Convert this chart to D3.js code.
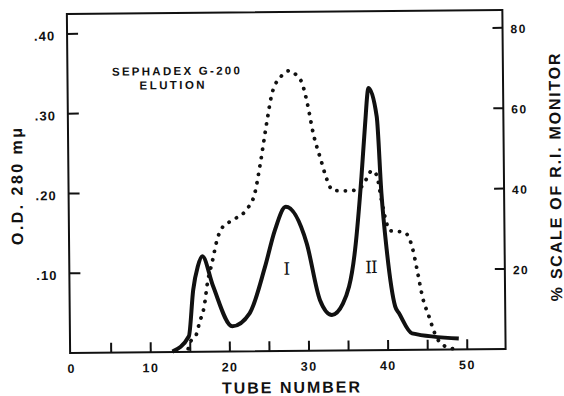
<!DOCTYPE html>
<html>
<head>
<meta charset="utf-8">
<script src="https://cdn.jsdelivr.net/npm/d3@7"></script>
<style>
  body { margin: 0; background: #fff; }
  svg { display: block; }
  text { font-family: "Liberation Sans", Arial, sans-serif; font-weight: bold; fill: #111; }
</style>
</head>
<body>
<svg width="564" height="396"></svg>
<script>
// values
var odTube  = [12.8, 14.9, 15.5, 16.1, 16.7, 18.0, 20.4, 22.6, 24.6, 25.9, 27.3, 29.9, 31.5, 33.0, 34.4, 36.0, 36.9, 37.4, 37.9, 38.9, 39.4, 40.0, 41.0, 41.5, 43.1, 49.0];
var odValue = [0.0, 0.019, 0.077, 0.106, 0.119, 0.082, 0.031, 0.047, 0.105, 0.151, 0.180, 0.134, 0.063, 0.044, 0.058, 0.125, 0.217, 0.280, 0.328, 0.292, 0.196, 0.125, 0.054, 0.045, 0.020, 0.013];

var riTube  = [14.8, 15.0, 15.9, 16.2, 16.9, 17.3, 17.9, 18.7, 19.2, 20.2, 22.3, 23.4, 24.1, 25.0, 25.7, 26.9, 27.9, 28.8, 29.5, 30.1, 30.9, 31.8, 32.4, 33.3, 35.5, 36.9, 37.7, 38.2, 38.8, 39.4, 40.0, 40.4, 42.3, 43.2, 43.9, 44.5, 45.2, 46.2, 47.0, 48.7];
var riValue = [0.8, 2.1, 4.6, 6.9, 11.6, 17.0, 22.0, 28.6, 30.7, 32.3, 35.2, 39.3, 46.3, 56.9, 64.1, 68.4, 69.7, 68.6, 66.6, 62.0, 53.7, 47.4, 43.3, 39.8, 39.7, 40.7, 43.2, 44.7, 43.6, 37.3, 31.7, 29.7, 29.2, 25.7, 19.0, 12.8, 8.6, 3.0, 1.1, 0.0];

var xTicks  = [5, 10, 15, 20, 25, 30, 35, 40, 45, 50];
var xLabels = [0, 10, 20, 30, 40, 50];
var odTicks = [0.10, 0.20, 0.30, 0.40];
var riTicks = [20, 40, 60, 80];
var peakNames = ["I", "II"];
var peakTube  = [27.3, 38.0];
var peakOD    = [0.095, 0.096];

var frameL = 68.5, frameR = 504, frameT = 12, frameB = 351;

var x   = d3.scaleLinear().domain([0, 50]).range([69.5, 465.2]);
var yOD = d3.scaleLinear().domain([0, 0.4]).range([350.5, 31.3]);
var yRI = d3.scaleLinear().domain([0, 80]).range([351, 29.4]);

var svg = d3.select("svg");
// the scan is tilted a little
var g = svg.append("g").attr("transform", "rotate(-0.55,286,183)");

g.append("rect")
  .attr("x", frameL).attr("y", frameT)
  .attr("width", frameR - frameL).attr("height", frameB - frameT)
  .style("fill", "none").style("stroke", "#111").style("stroke-width", 2);

function clean(sel) {
  sel.select(".domain").remove();
  sel.selectAll("line").style("stroke", "#111").style("stroke-width", 2);
  sel.selectAll("text").attr("font-family", null).style("fill", "#111");
}

g.append("g").attr("transform", "translate(0," + frameB + ")")
  .call(d3.axisBottom(x).tickValues(xTicks).tickSize(-10).tickFormat(""))
  .call(clean);

g.append("g").attr("transform", "translate(0," + frameB + ")")
  .call(d3.axisBottom(x).tickValues(xLabels).tickSize(0).tickPadding(11))
  .call(clean)
  .selectAll("text").attr("font-size", 12.5).style("letter-spacing", "1.5px");

g.append("g").attr("transform", "translate(" + frameL + ",0)")
  .call(d3.axisLeft(yOD).tickValues(odTicks).tickSize(-11).tickPadding(12)
    .tickFormat(d => d3.format(".2f")(d).replace(/^0/, "")))
  .call(clean)
  .selectAll("text").attr("font-size", 13).attr("dy", "0.5em").style("letter-spacing", "1px");

g.append("g").attr("transform", "translate(" + frameR + ",0)")
  .call(d3.axisRight(yRI).tickValues(riTicks).tickSize(-10).tickPadding(8))
  .call(clean)
  .selectAll("text").attr("font-size", 12).attr("dy", "0.45em").style("letter-spacing", "1.5px");

// R.I. monitor, dotted
var riLine = d3.line()
  .x((d, i) => x(riTube[i]))
  .y((d, i) => yRI(riValue[i]))
  .curve(d3.curveMonotoneX);
g.append("path")
  .attr("d", riLine(riTube))
  .style("fill", "none").style("stroke", "#111")
  .style("stroke-width", 3.8).style("stroke-linecap", "round")
  .style("stroke-dasharray", "0.1,8.4");

// O.D. 280, solid
var odLine = d3.line()
  .x((d, i) => x(odTube[i]))
  .y((d, i) => yOD(odValue[i]))
  .curve(d3.curveMonotoneX);
g.append("path")
  .attr("d", odLine(odTube))
  .style("fill", "none").style("stroke", "#111")
  .style("stroke-width", 4).style("stroke-linejoin", "round");

// peak names
g.selectAll(".peak").data(peakNames).enter().append("text")
  .attr("class", "peak")
  .attr("x", (d, i) => x(peakTube[i]))
  .attr("y", (d, i) => yOD(peakOD[i]))
  .attr("text-anchor", "middle")
  .attr("font-size", 17)
  .style("font-family", "'DejaVu Serif', serif").style("font-weight", "normal")
  .style("letter-spacing", "-1px")
  .text(d => d);

// titles
g.append("text").attr("x", 177).attr("y", 74).attr("text-anchor", "middle")
  .attr("font-size", 11.5).attr("textLength", 128).attr("lengthAdjust", "spacing")
  .text("SEPHADEX G-200");
g.append("text").attr("x", 173).attr("y", 88).attr("text-anchor", "middle")
  .attr("font-size", 11.5).attr("textLength", 65).attr("lengthAdjust", "spacing")
  .text("ELUTION");

g.append("text").attr("x", 289).attr("y", 393).attr("text-anchor", "middle")
  .attr("font-size", 16).attr("textLength", 138).attr("lengthAdjust", "spacing")
  .text("TUBE NUMBER");

g.append("text").attr("transform", "translate(22.5,184) rotate(-90)")
  .attr("text-anchor", "middle")
  .attr("font-size", 16).attr("textLength", 117).attr("lengthAdjust", "spacing")
  .text("O.D. 280 mμ");

g.append("text").attr("transform", "translate(561,180) rotate(-90)")
  .attr("text-anchor", "middle")
  .attr("font-size", 16).attr("textLength", 248).attr("lengthAdjust", "spacing")
  .text("% SCALE OF R.I. MONITOR");
</script>
</body>
</html>
